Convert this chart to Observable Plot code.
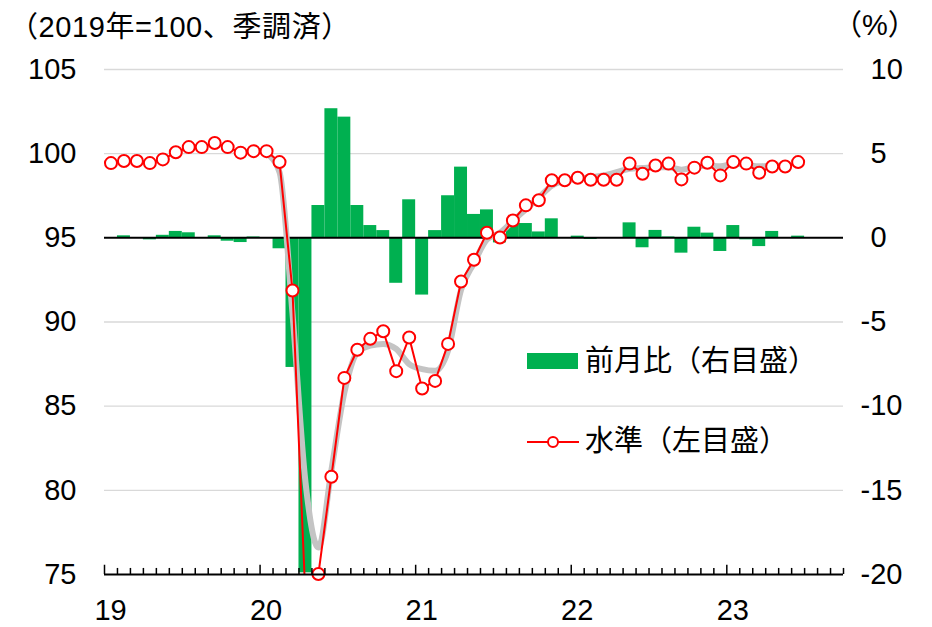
<!DOCTYPE html>
<html><head><meta charset="utf-8">
<script src="https://cdn.jsdelivr.net/npm/d3@7"></script>
<script src="https://cdn.jsdelivr.net/npm/@observablehq/plot@0.6"></script>
<style>
body{margin:0;background:#fff;}
#wrap{position:relative;width:932px;height:627px;overflow:hidden;font-family:"Liberation Sans",Arial,"Noto Sans CJK JP",sans-serif;color:#000;}
.t{position:absolute;font-size:29px;line-height:44px;height:44px;white-space:nowrap;}
#chart{position:absolute;left:0;top:44px;}
</style></head><body>
<div id="wrap">
  <div class="t" style="left:9px;top:5px;letter-spacing:0.6px;">（2019年=100、季調済）</div>
  <div class="t" style="left:833px;top:3px;">（%）</div>
  <div id="chart"></div>
  <div style="position:absolute;left:527px;top:353px;width:51px;height:16px;background:#00b050;"></div>
  <div class="t" style="left:585px;top:339px;">前月比（右目盛）</div>
  <svg style="position:absolute;left:526px;top:430px;" width="54" height="24">
    <line x1="1" x2="53" y1="12" y2="12" stroke="#ff0000" stroke-width="2"/>
    <circle cx="27" cy="12" r="5" fill="#fff" stroke="#ff0000" stroke-width="2"/>
  </svg>
  <div class="t" style="left:585px;top:419px;">水準（左目盛）</div>
</div>
<script>
// monthly categories, 2019-01 .. 2023-06
const months = d3.utcMonth.range(new Date(Date.UTC(2019,0,1)), new Date(Date.UTC(2023,6,1))).map(d => d3.utcFormat("%Y-%m")(d));
// level (2019 = 100, s.a.), left axis
const level = [99.44, 99.56, 99.56, 99.44, 99.66, 100.08, 100.39, 100.39, 100.63, 100.39, 100.06, 100.15,
  100.15, 99.50, 91.87, 73.60, 75.03, 80.81, 86.68, 88.35, 89.00, 89.45, 87.08, 89.08,
  86.05, 86.50, 88.70, 92.41, 93.70, 95.30, 95.02, 96.03, 96.93, 97.23, 98.42, 98.42,
  98.57, 98.45, 98.45, 98.45, 99.41, 98.81, 99.30, 99.41, 98.47, 99.17, 99.46, 98.71,
  99.50, 99.41, 98.87, 99.24, 99.24, 99.50];
// month-on-month change (%), right axis
const mom = [0, 0.12, 0, -0.12, 0.15, 0.38, 0.30, 0, 0.12, -0.20, -0.28, 0.05,
  0, -0.65, -7.70, -19.9, 1.92, 7.67, 7.17, 1.92, 0.73, 0.43, -2.70, 2.26,
  -3.40, 0.43, 2.50, 4.20, 1.39, 1.66, -0.30, 0.83, 0.85, 0.35, 1.13, 0,
  0.10, -0.10, 0, 0, 0.89, -0.59, 0.44, 0.05, -0.91, 0.63, 0.28, -0.81,
  0.73, -0.12, -0.52, 0.38, 0, 0.10];
// gray smoothed line, 2020-01 .. 2023-05
const trendStart = "2020-01";
const trend = [100.0, 98.9, 90.5, 80.5, 76.6, 81.2, 85.8, 88.2, 88.6, 88.7, 88.4, 87.5,
  87.2, 87.1, 88.3, 91.9, 93.5, 94.9, 95.3, 96.0, 96.7, 97.4, 98.1, 98.4,
  98.5, 98.6, 98.7, 98.9, 99.1, 99.15, 99.2, 99.2, 99.05, 99.2, 99.3, 99.25,
  99.4, 99.35, 99.25, 99.3, 99.3];
const yearLabels = ["19", "20", "21", "22", "23"];
const leftTicks = [75, 80, 85, 90, 95, 100, 105];
const rightTicks = [-20, -15, -10, -5, 0, 5, 10];
const gridLevels = [80, 85, 90, 100, 105];
const zeroLevel = 95;   // right-axis 0 sits on left-axis 95
const axisMonths = 57;  // x axis runs 2019-01 .. 2023-10

const rows = months.map((m, i) => ({m, i, level: level[i], mom: mom[i]}));
const t0 = months.indexOf(trendStart);
const trendRows = trend.map((v, k) => ({i: t0 + k, v}));
const monthTicks = d3.range(axisMonths + 1);

const font = '"Liberation Sans", Arial, "Noto Sans CJK JP", sans-serif';

const chart = Plot.plot({
  width: 932, height: 583,
  marginLeft: 104, marginRight: 89, marginTop: 25, marginBottom: 53,
  x: {type: "linear", domain: [0, axisMonths]},
  y: {domain: [75, 105]},
  style: {fontFamily: font, fontSize: "29px", color: "#000", background: "transparent", overflow: "visible"},
  marks: [
    Plot.gridY(gridLevels, {stroke: "#d9d9d9", strokeOpacity: 1, strokeWidth: 1.3}),
    Plot.rect(rows, {x1: d => d.i, x2: d => d.i + 1, y1: d => zeroLevel, y2: d => zeroLevel + d.mom, fill: "#00b050", clip: true}),
    Plot.ruleY([zeroLevel], {stroke: "#000", strokeWidth: 2}),
    Plot.line(trendRows, {x: d => d.i + 0.5, y: "v", stroke: "#c4c4c4", strokeWidth: 6, curve: "monotone-x", clip: true}),
    Plot.line(rows, {x: d => d.i + 0.5, y: "level", stroke: "#ff0000", strokeWidth: 2, clip: true}),
    Plot.dot(rows, {filter: d => d.level >= 75, x: d => d.i + 0.5, y: "level", r: 6, fill: "#fff", stroke: "#ff0000", strokeWidth: 2}),
    Plot.ruleY([75], {stroke: "#000", strokeWidth: 2}),
    Plot.ruleX(monthTicks, {x: d => d, y1: 75, y2: d => d % 12 === 0 ? 75.55 : 75.36, stroke: "#000", strokeWidth: 1.5}),
    Plot.axisY(leftTicks, {anchor: "left", tickSize: 0, tickPadding: 28, fontSize: 29}),
    Plot.text(rightTicks.filter(d => d >= 0), {frameAnchor: "right", y: d => d + zeroLevel, text: d => String(d), textAnchor: "start", dx: 27, fontSize: 29}),
    Plot.text(rightTicks.filter(d => d < 0), {frameAnchor: "right", y: d => d + zeroLevel, text: d => "-" + String(-d), textAnchor: "start", dx: 17, fontSize: 29}),
    Plot.axisX([0, 12, 24, 36, 48], {anchor: "bottom", tickSize: 0, tickPadding: 25, dx: 6, tickFormat: d => yearLabels[d / 12], fontSize: 29})
  ]
});
document.getElementById("chart").appendChild(chart);
</script>
</body></html>
